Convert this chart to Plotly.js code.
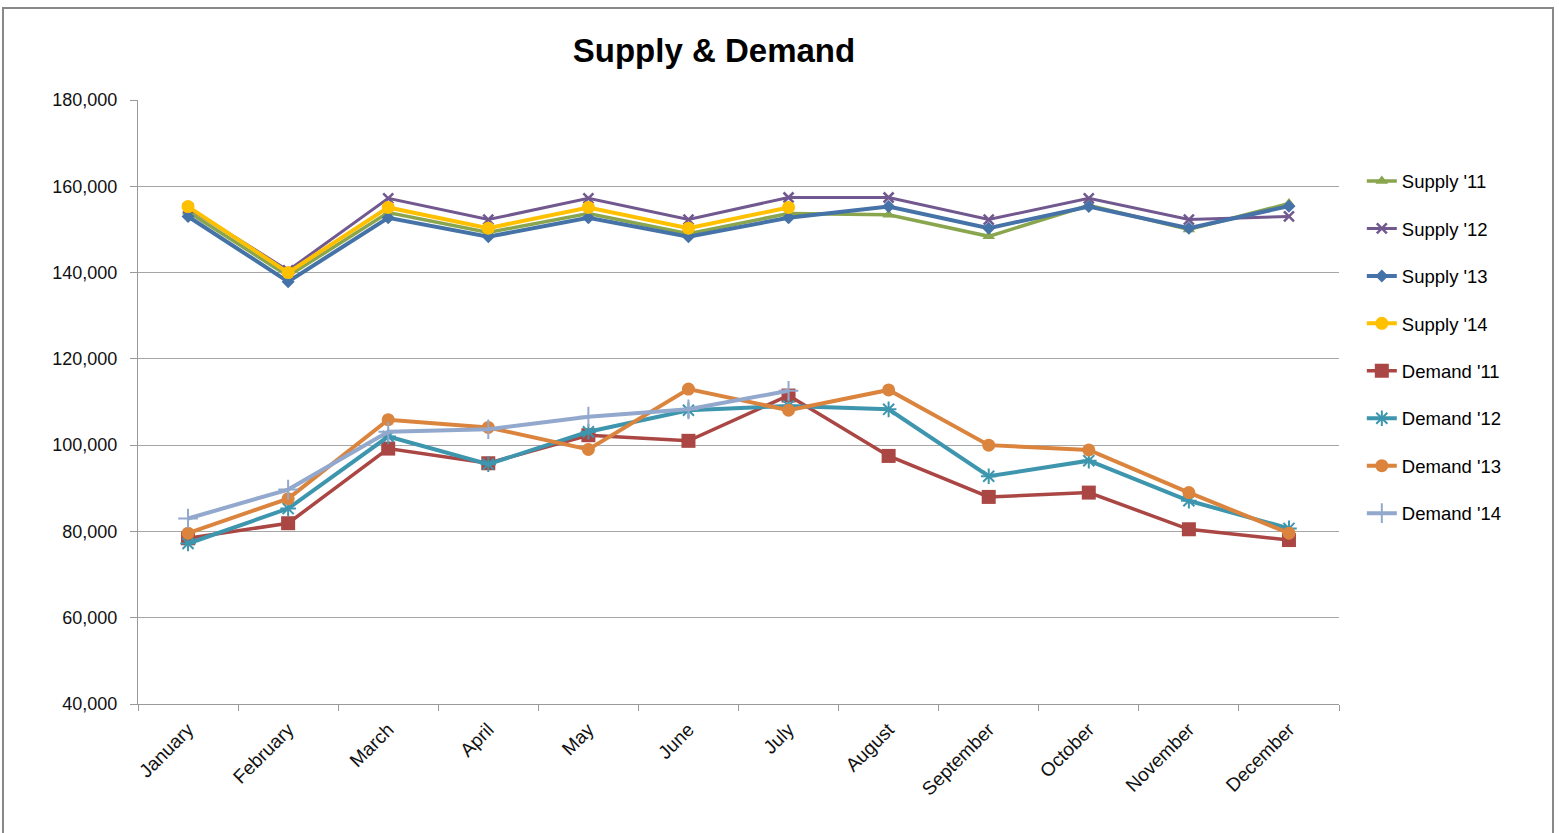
<!DOCTYPE html>
<html>
<head>
<meta charset="utf-8">
<script src="https://cdn.plot.ly/plotly-3.0.1.min.js"></script>
<style>
html,body{margin:0;padding:0;background:#fff;}
#chart{width:1559px;height:833px;}
</style>
</head>
<body>
<div id="chart"></div>
<script>
const months = ["January","February","March","April","May","June","July","August","September","October","November","December"];

const supply11 = [154100, 139200, 153900, 149300, 153700, 149000, 153700, 153400, 148400, 155600, 150000, 156000];
const supply12 = [155000, 140500, 157200, 152300, 157200, 152300, 157400, 157400, 152300, 157200, 152300, 153000];
const supply13 = [153000, 137900, 152700, 148300, 152700, 148300, 152700, 155300, 150300, 155300, 150300, 155400];
const supply14 = [155300, 140000, 155100, 150300, 155100, 150300, 155100, null, null, null, null, null];
const demand11 = [78400, 81900, 99200, 95800, 102300, 101000, 111500, 97500, 88000, 89000, 80500, 78000];
const demand12 = [77200, 85300, 102000, 95600, 103100, 108100, 109100, 108300, 92800, 96400, 87100, 80700];
const demand13 = [79600, 87600, 105900, 104100, 99000, 113000, 108100, 112800, 100000, 98900, 89000, 79600];
const demand14 = [83000, 89700, 103100, 103700, 106600, 108300, 112600, null, null, null, null, null];

const seriesNames = ["Supply '11","Supply '12","Supply '13","Supply '14","Demand '11","Demand '12","Demand '13","Demand '14"];
const seriesData = [supply11, supply12, supply13, supply14, demand11, demand12, demand13, demand14];

const styles = [
  {color:"#89A54E", width:3.5, symbol:"triangle-up", size:11},
  {color:"#71588F", width:3, symbol:"x-thin-open", size:10, lw:2.5},
  {color:"#4572A7", width:4, symbol:"diamond", size:10},
  {color:"#FFC000", width:4, symbol:"circle", size:13},
  {color:"#AA4643", width:3.5, symbol:"square", size:14},
  {color:"#3D96AE", width:4, symbol:"asterisk-open", size:13, lw:2},
  {color:"#DB843D", width:4, symbol:"circle", size:13},
  {color:"#92A8CD", width:4, symbol:"cross-thin-open", size:14, lw:2}
];

const traces = seriesNames.map((name, i) => {
  const s = styles[i];
  const marker = {symbol: s.symbol, size: s.size, color: s.color};
  if (s.lw) marker.line = {color: s.color, width: s.lw};
  return {
    type: "scatter",
    mode: "lines+markers",
    name: name,
    legendgroup: "g" + i,
    x: months,
    y: seriesData[i],
    line: {color: s.color, width: s.width},
    marker: marker,
    connectgaps: false
  };
});

const layout = {
  width: 1559,
  height: 833,
  paper_bgcolor: "#ffffff",
  plot_bgcolor: "#ffffff",
  margin: {l: 138, r: 220, t: 100, b: 129},
  font: {family: "Liberation Sans, Arial, sans-serif", color: "#111", size: 18},
  title: {
    text: "<b>Supply & Demand</b>",
    x: 0.4796, xanchor: "center", xref: "paper",
    y: 0.94, yanchor: "middle", yref: "container",
    font: {family: "Liberation Sans, Arial, sans-serif", size: 33, color: "#000"}
  },
  xaxis: {
    type: "category",
    range: [-0.5, 11.5],
    tickangle: -45,
    tickson: "boundaries",
    ticks: "outside",
    ticklen: 6,
    tickcolor: "#9a9a9a",
    ticklabelstandoff: 6,
    showline: true,
    linecolor: "#9a9a9a",
    linewidth: 1,
    showgrid: false,
    zeroline: false,
    tickfont: {size: 19, color: "#111"}
  },
  yaxis: {
    range: [40000, 180000],
    dtick: 20000,
    tick0: 40000,
    tickformat: ",",
    ticks: "outside",
    ticklen: 7,
    tickcolor: "#9a9a9a",
    ticklabelstandoff: 9,
    showline: true,
    linecolor: "#9a9a9a",
    linewidth: 1,
    showgrid: true,
    gridcolor: "#a6a6a6",
    gridwidth: 1,
    zeroline: false,
    tickfont: {size: 18, color: "#111"}
  },
  legend: {
    x: 1.019, xanchor: "left",
    y: 0.8966, yanchor: "top",
    font: {size: 18.5, color: "#000"},
    tracegroupgap: 20.4,
    bgcolor: "rgba(0,0,0,0)",
    itemwidth: 30
  },
  shapes: [
    {type: "rect", xref: "paper", yref: "paper",
     x0: -0.1124, x1: 1.1782, y0: -0.3, y1: 1.1523,
     line: {color: "#888888", width: 2}, fillcolor: "rgba(0,0,0,0)", layer: "below"}
  ],
  showlegend: true
};

Plotly.newPlot("chart", traces, layout, {displayModeBar: false, staticPlot: true});
</script>
</body>
</html>
